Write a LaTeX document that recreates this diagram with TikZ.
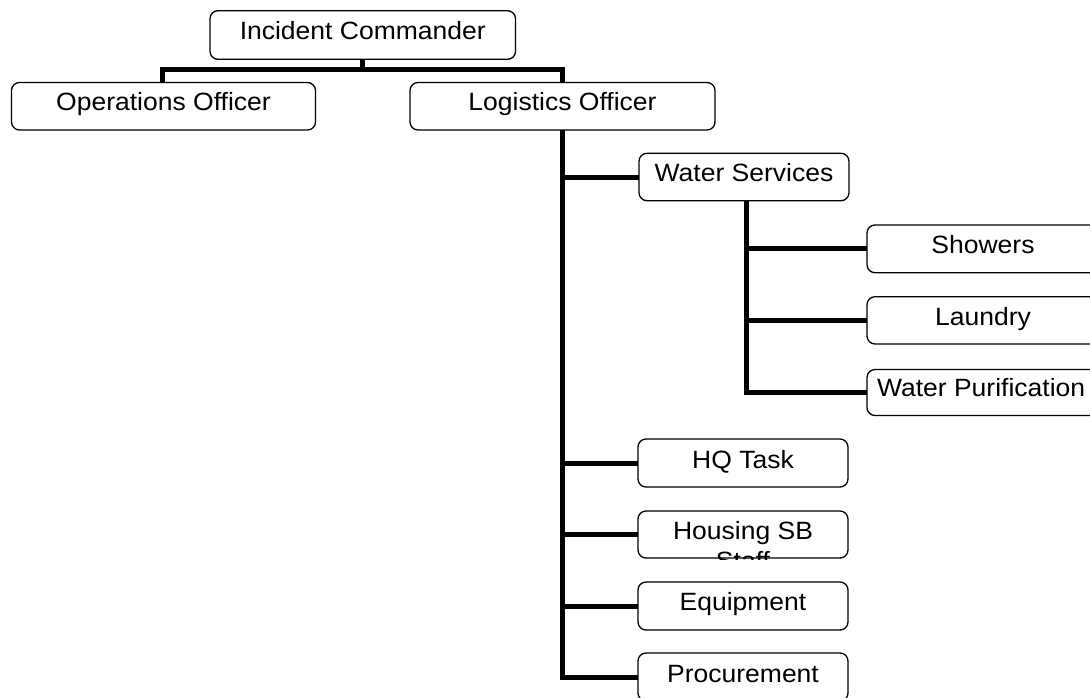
\documentclass[tikz,border=0pt]{standalone}
\usepackage{fontspec}
\setmainfont{Liberation Sans}
\pgfdeclarelayer{background}
\pgfsetlayers{background,main}
% slightly widened label text
\newcommand\wide[1]{\scalebox{1.06}[1]{#1}}
\begin{document}
\begin{tikzpicture}[x=1pt,y=-1pt,
  box/.style={draw=black, line width=1.3pt, fill=white, rounded corners=8pt,
              inner sep=0pt, outer sep=0pt},
  txt/.style={anchor=base, inner sep=0pt, outer sep=0pt,
              font=\fontsize{25}{30}\selectfont},
  conn/.style={draw=black, line width=5pt, line join=miter}]
\useasboundingbox (0,0) rectangle (1090,697);
\clip (0,0) rectangle (1090,697);

% top level
\node[box, minimum width=305.5pt, minimum height=48.6pt] (ic)  at (362.75,35) {};
\node[box, minimum width=304pt,   minimum height=47.5pt] (ops) at (163.5,106.25) {};
\node[box, minimum width=305pt,   minimum height=47.5pt] (lo)  at (562.5,106.25) {};

% logistics branches
\node[box, minimum width=210pt, minimum height=47.4pt] (ws) at (744,177) {};
\node[box, minimum width=210pt, minimum height=48pt]   (hq) at (743,463) {};
\node[box, minimum width=210pt, minimum height=47pt]   (hs) at (743,534.5) {};
\node[box, minimum width=210pt, minimum height=48pt]   (eq) at (743,606) {};
\node[box, minimum width=210pt, minimum height=48pt]   (pr) at (743,677) {};

% water services units
\node[box, minimum width=232pt, minimum height=47.7pt] (sh) at (983,248.85) {};
\node[box, minimum width=232pt, minimum height=47.3pt] (la) at (983,320.35) {};
\node[box, minimum width=232pt, minimum height=46pt]   (wp) at (983,392.5) {};

% page background and connectors, beneath the boxes
\begin{pgfonlayer}{background}
  \fill[white] (0,0) rectangle (1090,697);
  \coordinate (bus) at (0,69.7);
  \draw[conn] (ic.south) -- (ic.south |- bus);
  \draw[conn] ([xshift=-1pt]ops.north) -- ([xshift=-1pt]ops.north |- bus)
              -- (lo.north |- bus) -- (lo.north);
  \draw[conn] (lo.south) -- (lo.south |- pr.west) -- (pr.west);
  \foreach \n in {ws,hq,hs,eq}
    \draw[conn] (lo.south |- \n.west) -- (\n.west);
  \coordinate (wsp) at ([xshift=2.5pt]ws.south);
  \draw[conn] (wsp) -- (wsp |- wp.west) -- (wp.west);
  \foreach \n in {sh,la}
    \draw[conn] (wsp |- \n.west) -- (\n.west);
\end{pgfonlayer}

% labels
\node[txt] (ict)  at (362.75,39.8) {\wide{Incident Commander}};
\node[txt] (opst) at (163.5,110.5) {\wide{Operations Officer}};
\node[txt] (lot)  at (562.5,110.5) {\wide{Logistics Officer}};
\node[txt] (wst)  at (744,181.2)   {\wide{Water Services}};
\node[txt] (sht)  at (983,253.5)   {\wide{Showers}};
\node[txt] (lat)  at (983,325.2)   {\wide{Laundry}};
\node[txt, anchor=base west] (wpt) at (877,396.5) {\wide{Water Purification}};
\node[txt] (hqt)  at (743,468)     {\wide{HQ Task}};
\begin{scope}
  \clip[rounded corners=8pt] ([yshift=-1pt]hs.south west) rectangle (hs.north east);
  \node[txt] (hst1) at (743,539.5) {\wide{Housing SB}};
  \node[txt] (hst2) at (743,569.5) {\wide{Staff}};
\end{scope}
\node[txt] (eqt)  at (743,610.5)   {\wide{Equipment}};
\node[txt] (prt)  at (743,682)     {\wide{Procurement}};
\end{tikzpicture}
\end{document}
